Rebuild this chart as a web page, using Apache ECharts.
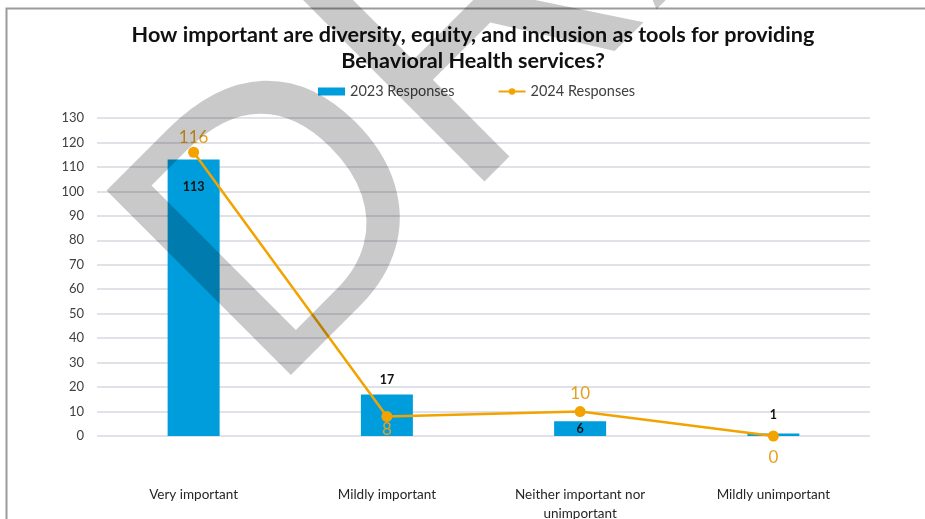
<!DOCTYPE html>
<html>
<head>
<meta charset="utf-8">
<script src="https://cdn.jsdelivr.net/npm/echarts@6/dist/echarts.min.js"></script>
<style>
  html, body { margin: 0; padding: 0; background: #ffffff; }
  #chart { width: 925px; height: 519px; }
</style>
</head>
<body>
<div id="chart"></div>
<script>
// Survey answer categories
const categories = ['Very important', 'Mildly important', 'Neither important nor\nunimportant', 'Mildly unimportant'];
// Response counts per year
const responses2023 = [113, 17, 6, 1];
const responses2024 = [116, 8, 10, 0];
// Value axis ticks
const yMin = 0, yMax = 130, yStep = 10;

// Where each data label sits relative to its mark
const barLabelPos = [['insideTop', 21], ['top', 8], ['insideTop', 1], ['top', 12]];
const lineLabelPos = [['top', 1], ['bottom', -1], ['top', 4], ['bottom', 8]];

const chart = echarts.init(document.getElementById('chart'), null, { renderer: 'canvas' });
const font = 'Lato, "Open Sans", sans-serif';

chart.setOption({
  backgroundColor: '#ffffff',
  animation: false,
  title: {
    text: 'How important are diversity, equity, and inclusion as tools for providing\nBehavioral Health services?',
    left: 468, top: 17, textAlign: 'center',
    textStyle: { fontFamily: font, fontWeight: 'bold', fontSize: 21.6, color: '#111111', lineHeight: 26 }
  },
  legend: {
    top: 79, left: 313, itemGap: 43,
    itemWidth: 27, itemHeight: 8,
    textStyle: { fontFamily: font, fontSize: 14.5, color: '#404040' },
    data: [
      { name: '2023 Responses', icon: 'rect' },
      { name: '2024 Responses' }
    ]
  },
  grid: { left: 97, right: 55, top: 118, bottom: 83, containLabel: false, outerBoundsMode: 'none' },
  xAxis: {
    type: 'category',
    data: categories,
    axisLine: { show: false },
    axisTick: { show: false },
    axisLabel: { margin: 49, fontFamily: font, fontSize: 13.5, color: '#262626', lineHeight: 19, interval: 0 }
  },
  yAxis: {
    type: 'value', min: yMin, max: yMax, interval: yStep,
    axisLine: { show: false },
    axisTick: { show: false },
    axisLabel: { margin: 13, fontFamily: font, fontSize: 13, color: '#404040' },
    splitLine: { lineStyle: { color: '#d6d9e0', width: 1.6 } }
  },
  series: [
    {
      name: '2023 Responses',
      type: 'bar',
      barWidth: 52,
      itemStyle: { color: '#009DDC' },
      data: responses2023.map((v, i) => ({
        value: v,
        label: { position: barLabelPos[i][0], distance: barLabelPos[i][1] }
      })),
      label: {
        show: true, fontFamily: font, fontSize: 12.5, fontWeight: 'bold', color: '#111111'
      },
      z: 2
    },
    {
      name: '2024 Responses',
      type: 'line',
      symbol: 'circle', symbolSize: 11,
      lineStyle: { color: '#F2A300', width: 2.5 },
      itemStyle: { color: '#F2A300' },
      data: responses2024.map((v, i) => ({
        value: v,
        label: { position: lineLabelPos[i][0], distance: lineLabelPos[i][1] }
      })),
      label: {
        show: true, fontFamily: font, fontSize: 17, color: '#E6A020'
      },
      z: 3
    }
  ],
  graphic: [
    {
      // outer frame of the chart area
      type: 'polyline', silent: true,
      shape: { points: [[6.5, 540], [6.5, 8.5], [940, 8.5]] },
      style: { stroke: '#9b9b9b', lineWidth: 2, fill: null },
      z: 50
    },
    {
      // DRAFT watermark
      type: 'text', silent: true,
      x: 61, y: 189, rotation: Math.PI / 4,
      style: {
        text: 'DRAFT',
        fontFamily: '"Liberation Sans", Arial, sans-serif',
        fontSize: 379,
        fill: 'rgba(0,0,0,0.21)'
      },
      z: 100
    }
  ]
});
</script>
</body>
</html>
